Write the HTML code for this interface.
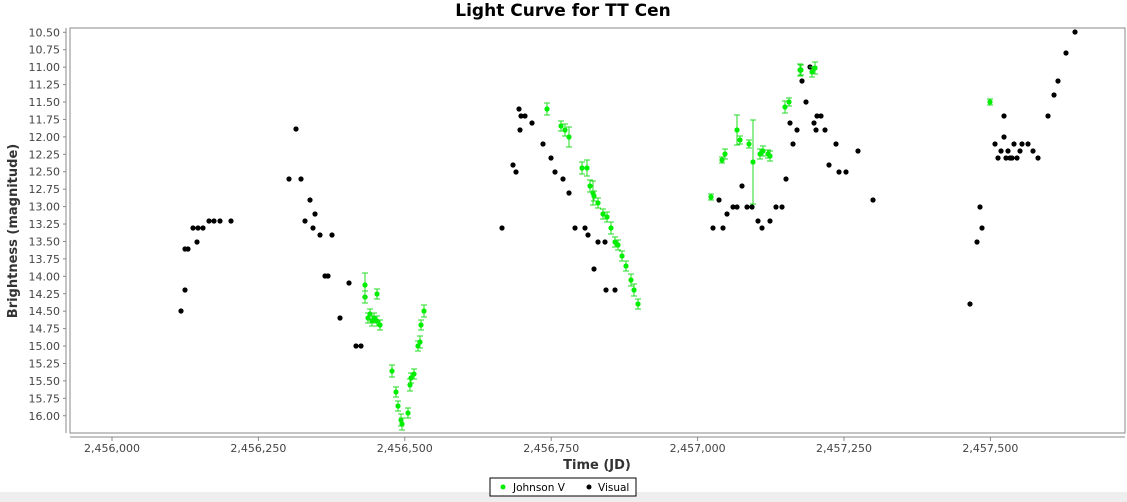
<!DOCTYPE html>
<html><head><meta charset="utf-8"><style>
body{margin:0;width:1127px;height:502px;background:#fff;overflow:hidden;font-family:"DejaVu Sans","Liberation Sans",sans-serif}
</style></head><body>
<svg id="s" width="1127" height="502" xmlns="http://www.w3.org/2000/svg" style="position:absolute;left:0;top:0">
<rect x="0" y="492" width="1127" height="10" fill="#eeeeee"/>
<text x="563" y="16" text-anchor="middle" font-size="17" font-weight="bold" font-family="DejaVu Sans,sans-serif">Light Curve for TT Cen</text>
<rect x="70" y="28" width="1055" height="405" fill="#fff" stroke="#888" stroke-width="1"/>
<line x1="66" y1="28" x2="66" y2="433" stroke="#888"/>
<line x1="70" y1="437" x2="1125" y2="437" stroke="#888"/>
<g id="yt" font-size="11" fill="#444" text-anchor="end"></g>
<g id="xt" font-size="11" fill="#444" text-anchor="middle"></g>
<text transform="translate(17,231) rotate(-90)" text-anchor="middle" font-size="13" font-weight="bold" fill="#333">Brightness (magnitude)</text>
<text x="597" y="469" text-anchor="middle" font-size="13" font-weight="bold" fill="#333">Time (JD)</text>
<rect x="490" y="478" width="146" height="18" fill="#fff" stroke="#000"/>
<circle cx="503" cy="487" r="2.5" fill="#00ee00"/>
<text x="513" y="491" font-size="10.5">Johnson V</text>
<circle cx="589" cy="487" r="2.5" fill="#000"/>
<text x="598" y="491" font-size="10.5">Visual</text>
<g id="d"></g>
</svg>
<script>
var NS="http://www.w3.org/2000/svg",yt=document.getElementById('yt'),xt=document.getElementById('xt'),d=document.getElementById('d');
function el(t,a,p){var e=document.createElementNS(NS,t);for(var k in a)e.setAttribute(k,a[k]);p.appendChild(e);return e;}
for(var i=0;i<=22;i++){var y=32.3+i*17.43,m=(10.5+i*0.25).toFixed(2);
var t=el('text',{x:60,y:y+4},yt);t.textContent=m;el('line',{x1:63,y1:y,x2:66,y2:y,stroke:'#888'},yt);}
var xl=["2,456,000","2,456,250","2,456,500","2,456,750","2,457,000","2,457,250","2,457,500"];
for(var i=0;i<7;i++){var x=112+i*146.4;var t=el('text',{x:x,y:452},xt);t.textContent=xl[i];el('line',{x1:x,y1:437,x2:x,y2:441,stroke:'#888'},xt);}
var B=[[181,311],[185,290],[185,249],[188,249],[193,228],[197,242],[198,228],[203,228],[209,221],[214,221],[220,221],[231,221],[289,179],[296,129],[301,179],[305,221],[310,200],[313,228],[315,214],[320,235],[325,276],[328,276],[332,235],[340,318],[349,283],[356,346],[361,346],[502,228],[513,165],[516,172],[520,130],[519,109],[521,116],[525,116],[532,123],[543,144],[551,158],[555,172],[563,179],[569,193],[575,228],[585,228],[588,235],[594,269],[598,242],[605,242],[606,290],[615,290],[713,228],[719,200],[723,228],[727,214],[733,207],[737,207],[742,186],[747,207],[752,207],[758,221],[762,228],[770,221],[776,207],[782,207],[786,179],[790,123],[793,144],[797,130],[802,81],[806,102],[810,67],[814,123],[816,130],[817,116],[821,116],[825,130],[829,165],[836,144],[839,172],[846,172],[858,151],[873,200],[970,304],[977,242],[980,207],[982,228],[995,144],[998,158],[1001,151],[1004,116],[1004,137],[1006,158],[1012,158],[1014,144],[1017,158],[1020,151],[1022,144],[1028,144],[1033,151],[1038,158],[1048,116],[1054,95],[1058,81],[1066,53],[1075,32],[1010,158],[1008,151]];
var G=[[365,297,6],[365,285,12],[368,318,5],[370,314,5],[372,321,5],[374,318,5],[377,321,5],[380,325,5],[377,294,5],[392,371,6],[396,392,5],[398,406,5],[401,420,6],[402,424,6],[408,413,5],[410,385,6],[411,378,5],[414,374,5],[418,346,5],[420,342,6],[421,325,5],[424,311,6],[547,109,6],[561,126,5],[565,130,6],[569,137,10],[582,168,6],[587,168,8],[590,186,6],[593,193,12],[594,196,5],[598,203,5],[603,214,5],[607,217,5],[611,228,6],[615,242,5],[618,245,5],[622,256,5],[626,266,5],[631,280,6],[634,290,6],[638,304,5],[711,197,3],[722,160,3],[725,154,5],[737,130,15],[740,140,4],[749,144,4],[753,162,42],[760,154,5],[763,151,5],[768,154,4],[770,156,5],[785,107,6],[789,102,4],[800,70,6],[801,70,5],[812,72,5],[815,68,6],[990,102,3]];
B.forEach(function(p){el('circle',{cx:p[0],cy:p[1],r:2.6,fill:'#000'},d);});
G.forEach(function(p){var c='#22dd22';el('line',{x1:p[0],y1:p[1]-p[2],x2:p[0],y2:p[1]+p[2],stroke:c},d);
el('line',{x1:p[0]-3,y1:p[1]-p[2],x2:p[0]+3,y2:p[1]-p[2],stroke:c},d);el('line',{x1:p[0]-3,y1:p[1]+p[2],x2:p[0]+3,y2:p[1]+p[2],stroke:c},d);
el('circle',{cx:p[0],cy:p[1],r:2.6,fill:'#00ee00'},d);});
</script>
</body></html>
